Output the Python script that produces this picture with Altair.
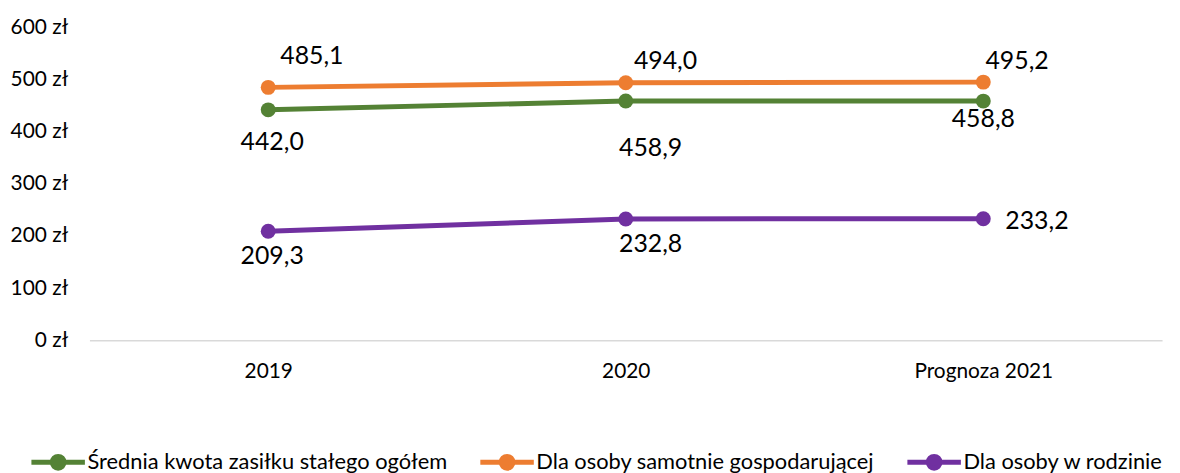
import altair as alt
import pandas as pd

years = ["2019", "2020", "Prognoza 2021"]
series = [
    "Średnia kwota zasiłku stałego ogółem",
    "Dla osoby samotnie gospodarującej",
    "Dla osoby w rodzinie",
]
values_total = [442.0, 458.9, 458.8]
values_single = [485.1, 494.0, 495.2]
values_family = [209.3, 232.8, 233.2]
colors = ["#548235", "#ED7D31", "#7030A0"]
y_ticks = [0, 100, 200, 300, 400, 500, 600]

all_values = [values_total, values_single, values_family]
rows = []
for si, s in enumerate(series):
    for yi, y in enumerate(years):
        rows.append({"series": s, "year": y, "value": all_values[si][yi], "si": si, "yi": yi})
df = pd.DataFrame(rows)

FONT = "Lato"

x_enc = alt.X("year:N", sort=years, scale=alt.Scale(type="point", padding=0.5),
              axis=alt.Axis(title=None, labelAngle=0, ticks=False, domainColor="#d9d9d9",
                            domainWidth=1.5, labelPadding=20, labelFontSize=21,
                            labelColor="#000000", labelFont=FONT))
y_enc = alt.Y("value:Q", scale=alt.Scale(domain=[0, 600], nice=False),
              axis=alt.Axis(title=None, values=y_ticks, grid=False, domain=False, ticks=False,
                            labelExpr="datum.value + ' zł'", labelPadding=22, labelFontSize=21,
                            labelColor="#000000", labelFont=FONT))
color_enc = alt.Color("series:N", sort=series,
                      scale=alt.Scale(domain=series, range=colors),
                      legend=alt.Legend(
                          title=None, orient="none", direction="horizontal",
                          legendX=-61, legendY=408,
                          symbolType="M-1,0H1M-0.22,0A0.22,0.22 0 1,1 0.22,0A0.22,0.22 0 1,1 -0.22,0Z",
                          symbolSize=2900, symbolStrokeWidth=5,
                          labelFontSize=22, labelFont=FONT, labelColor="#000000",
                          labelOffset=0, columnPadding=22, labelLimit=500))

base = alt.Chart(df)
line = base.mark_line(strokeWidth=5).encode(x=x_enc, y=y_enc, color=color_enc)
points = base.mark_point(filled=True, size=225, opacity=1).encode(x=x_enc, y=y_enc, color=color_enc)

offsets = {
    (0, 0): (4, 32), (0, 1): (25, 47), (0, 2): (0, 18),
    (1, 0): (44, -32), (1, 1): (40, -22), (1, 2): (34, -21),
    (2, 0): (4, 25), (2, 1): (25, 25), (2, 2): (54, 2),
}
texts = []
for (si, yi), (dx, dy) in offsets.items():
    t = base.transform_filter(
        (alt.datum.si == si) & (alt.datum.yi == yi)
    ).transform_calculate(
        label="replace(format(datum.value, '.1f'), '.', ',')"
    ).mark_text(dx=dx, dy=dy, fontSize=25, font=FONT, color="#000000").encode(
        x=alt.X("year:N", sort=years), y="value:Q", text="label:N")
    texts.append(t)

chart = alt.layer(line, points, *texts).properties(
    width=1080, height=315,
    padding={"left": 82, "top": 18, "right": 10, "bottom": 132},
    autosize=alt.AutoSizeParams(type="none"),
).configure_view(stroke=None)

chart.save("out.html", embed_options={"renderer": "svg", "actions": False})
